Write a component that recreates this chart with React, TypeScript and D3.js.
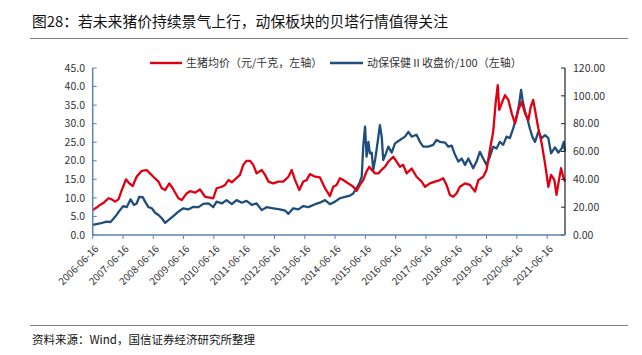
import React from "react";
import * as d3 from "d3";

// ---- data (decimal year, value on left axis) ----
const redYears = [
  2006.46, 2006.59, 2006.70, 2006.81, 2006.98, 2007.09, 2007.20, 2007.31, 2007.42, 2007.56, 2007.67, 2007.78, 2007.91,
  2008.08, 2008.24, 2008.35, 2008.46, 2008.63, 2008.74, 2008.85, 2008.99, 2009.10, 2009.29, 2009.40, 2009.56, 2009.67,
  2009.84, 2010.00, 2010.17, 2010.33, 2010.44, 2010.55, 2010.72, 2010.83, 2010.94, 2011.05, 2011.16, 2011.32, 2011.43,
  2011.54, 2011.65, 2011.76, 2011.87, 2012.04, 2012.15, 2012.26, 2012.42, 2012.59, 2012.75, 2012.92, 2013.03, 2013.14,
  2013.28, 2013.41, 2013.52, 2013.63, 2013.80, 2013.96, 2014.13, 2014.29, 2014.40, 2014.51, 2014.62, 2014.73, 2014.90,
  2015.06, 2015.17, 2015.28, 2015.39, 2015.50, 2015.59, 2015.67, 2015.78, 2015.89, 2015.99, 2016.11, 2016.22, 2016.38,
  2016.49, 2016.60, 2016.71, 2016.82, 2016.99, 2017.15, 2017.32, 2017.43, 2017.59, 2017.76, 2017.92, 2018.03, 2018.14,
  2018.25, 2018.36, 2018.47, 2018.58, 2018.75, 2018.91, 2019.08, 2019.19, 2019.35, 2019.46, 2019.57, 2019.68, 2019.76,
  2019.83, 2019.88, 2019.96, 2020.07, 2020.18, 2020.29, 2020.40, 2020.51, 2020.62, 2020.73, 2020.84, 2020.92, 2021.00,
  2021.08, 2021.17, 2021.28, 2021.39, 2021.50, 2021.59, 2021.70, 2021.77, 2021.85, 2021.92, 2021.99, 2022.05,
];
const redValues = [
  6.7, 7.4, 8.1, 8.6, 9.9, 9.6, 9.0, 9.6, 12.1, 15.0, 13.9, 13.2, 15.7,
  17.3, 17.5, 16.6, 15.7, 14.4, 12.6, 12.1, 13.9, 12.6, 9.9, 9.4, 11.2, 11.8,
  11.4, 12.3, 10.3, 10.1, 9.9, 12.6, 13.0, 13.5, 14.8, 14.2, 15.0, 16.2, 18.9,
  20.0, 20.0, 18.9, 16.6, 17.5, 16.2, 14.4, 13.9, 14.4, 14.4, 15.7, 17.5, 14.8,
  12.1, 14.4, 14.8, 16.4, 15.7, 15.5, 12.6, 10.5, 13.0, 13.5, 15.3, 14.8, 13.9,
  13.0, 11.9, 13.5, 14.8, 17.1, 18.4, 17.5, 16.6, 16.6, 17.5, 18.4, 19.8, 21.1,
  19.8, 18.4, 18.9, 16.6, 17.9, 15.7, 14.4, 13.0, 13.9, 14.4, 14.8, 15.3, 13.5,
  10.8, 10.3, 11.2, 13.0, 13.9, 13.5, 11.7, 14.8, 15.7, 17.5, 22.9, 27.8, 35.5,
  40.4, 33.7, 35.5, 37.7, 36.4, 32.8, 30.1, 33.7, 35.9, 32.8, 31.0, 34.6, 36.4,
  32.8, 28.7, 24.7, 19.3, 13.0, 16.2, 14.8, 10.8, 14.8, 18.0, 15.7, 14.4,
];

const blueYears = [
  2006.46, 2006.70, 2006.92, 2007.05, 2007.20, 2007.36, 2007.47, 2007.58, 2007.71, 2007.82, 2007.91, 2008.00, 2008.11,
  2008.19, 2008.30, 2008.41, 2008.52, 2008.63, 2008.74, 2008.85, 2008.96, 2009.12, 2009.29, 2009.45, 2009.62, 2009.78,
  2009.95, 2010.11, 2010.28, 2010.44, 2010.55, 2010.72, 2010.88, 2011.05, 2011.21, 2011.38, 2011.54, 2011.71, 2011.87,
  2012.04, 2012.20, 2012.42, 2012.64, 2012.81, 2012.92, 2013.08, 2013.25, 2013.41, 2013.58, 2013.80, 2013.96, 2014.13,
  2014.29, 2014.46, 2014.62, 2014.79, 2014.95, 2015.06, 2015.17, 2015.26, 2015.34, 2015.39, 2015.45, 2015.50, 2015.56,
  2015.61, 2015.67, 2015.72, 2015.78, 2015.83, 2015.89, 2015.94, 2016.00, 2016.05, 2016.14, 2016.22, 2016.33, 2016.44,
  2016.60, 2016.77, 2016.88, 2016.99, 2017.15, 2017.26, 2017.37, 2017.54, 2017.70, 2017.81, 2017.92, 2018.09, 2018.20,
  2018.31, 2018.42, 2018.53, 2018.64, 2018.75, 2018.86, 2019.02, 2019.13, 2019.24, 2019.35, 2019.46, 2019.57, 2019.68,
  2019.79, 2019.90, 2020.01, 2020.12, 2020.23, 2020.34, 2020.45, 2020.53, 2020.60, 2020.65, 2020.73, 2020.82, 2020.89,
  2020.97, 2021.06, 2021.17, 2021.28, 2021.39, 2021.50, 2021.59, 2021.72, 2021.83, 2021.94, 2022.01, 2022.05,
];
const blueValues = [
  2.7, 3.1, 3.6, 3.5, 4.9, 6.7, 7.8, 7.5, 9.6, 8.1, 8.5, 10.3, 10.2,
  9.0, 7.5, 7.2, 6.0, 5.4, 4.5, 3.3, 4.0, 5.1, 6.3, 7.2, 6.9, 7.6,
  7.5, 8.4, 8.5, 7.5, 9.0, 8.5, 9.4, 8.3, 9.4, 8.7, 9.2, 8.1, 8.5,
  6.7, 7.5, 7.2, 6.9, 6.6, 5.7, 7.2, 6.9, 7.8, 7.5, 8.3, 8.7, 9.4,
  8.3, 9.0, 9.9, 10.3, 10.6, 11.2, 12.6, 13.9, 15.7, 23.8, 29.2, 21.1, 25.1,
  22.0, 22.2, 17.5, 20.2, 22.9, 26.5, 29.6, 26.5, 20.2, 22.0, 23.8, 22.2, 24.7,
  25.6, 26.5, 27.8, 26.5, 27.0, 25.1, 23.8, 23.8, 24.3, 25.6, 25.1, 24.9, 23.8,
  24.1, 21.6, 19.8, 20.6, 18.9, 20.6, 18.0, 19.8, 22.4, 20.6, 18.9, 21.1, 23.8,
  23.3, 25.1, 24.3, 26.5, 26.1, 28.7, 31.9, 35.0, 39.1, 36.4, 33.2, 31.0, 28.7,
  26.5, 25.1, 27.8, 26.1, 26.9, 26.1, 22.0, 23.6, 22.2, 23.3, 25.1, 22.5,
];

const xTickLabels = [
  "2006-06-16", "2007-06-16", "2008-06-16", "2009-06-16", "2010-06-16", "2011-06-16", "2012-06-16", "2013-06-16",
  "2014-06-16", "2015-06-16", "2016-06-16", "2017-06-16", "2018-06-16", "2019-06-16", "2020-06-16", "2021-06-16",
];
const leftTicks = [0, 5, 10, 15, 20, 25, 30, 35, 40, 45];
const rightTicks = [0, 20, 40, 60, 80, 100, 120];

const title = "图28：若未来猪价持续景气上行，动保板块的贝塔行情值得关注";
const legendRed = "生猪均价（元/千克，左轴）";
const legendBlue = "动保保健Ⅱ收盘价/100（左轴）";
const source = "资料来源：Wind，国信证券经济研究所整理";

const W = 642;
const H = 355;
const L = 92.7;
const R = 565;
const T = 68;
const B = 235;

const FONT = "'Noto Sans CJK SC', 'Noto Sans', sans-serif";
const RED = "#e00012";
const BLUE = "#1f4e7c";
const AXIS_BLUE = "#5b82b3";

export default function App() {
  const x = d3.scaleLinear().domain([2006.46, 2022.05]).range([L, R]);
  const yL = d3.scaleLinear().domain([0, 45]).range([B, T]);
  const yR = d3.scaleLinear().domain([0, 120]).range([B, T]);

  const redData = redYears.map((t, i) => [t, redValues[i]] as [number, number]);
  const blueData = blueYears.map((t, i) => [t, blueValues[i]] as [number, number]);
  const line = d3
    .line<[number, number]>()
    .x((d) => x(d[0]))
    .y((d) => yL(d[1]));

  const tickYears = xTickLabels.map((_, i) => 2006.46 + i);

  return (
    <svg
      width={W}
      height={H}
      style={{ position: "absolute", left: 0, top: 0, background: "#fff" }}
      fontFamily={FONT}
    >
      <rect x={0} y={0} width={W} height={H} fill="#fff" />
      {/* title */}
      <text x={32} y={27} fontSize={14.8} fill="#111">
        {title}
      </text>
      <line x1={30} x2={628} y1={38.5} y2={38.5} stroke="#7f7f7f" strokeWidth={1} />

      {/* legend */}
      <line x1={150} x2={182} y1={63} y2={63} stroke={RED} strokeWidth={2.4} />
      <text x={186} y={67} fontSize={11} fill="#333">
        {legendRed}
      </text>
      <line x1={330} x2={363} y1={63} y2={63} stroke={BLUE} strokeWidth={2.4} />
      <text x={367} y={67} fontSize={11} fill="#333">
        {legendBlue}
      </text>

      {/* lines */}
      <path d={line(blueData) || ""} fill="none" stroke={BLUE} strokeWidth={2.3} strokeLinejoin="round" />
      <path d={line(redData) || ""} fill="none" stroke={RED} strokeWidth={2.3} strokeLinejoin="round" />

      {/* left axis */}
      <line x1={L} x2={L} y1={T} y2={B} stroke={AXIS_BLUE} strokeWidth={1.5} />
      {leftTicks.map((v) => (
        <g key={"l" + v}>
          <line x1={L} x2={L + 4} y1={yL(v)} y2={yL(v)} stroke={AXIS_BLUE} strokeWidth={1} />
          <text x={85} y={yL(v)} dy="0.35em" textAnchor="end" fontSize={10.5} fill="#333">
            {v.toFixed(1)}
          </text>
        </g>
      ))}

      {/* right axis */}
      <line x1={R} x2={R} y1={T} y2={B} stroke="#222" strokeWidth={1.2} />
      {rightTicks.map((v) => (
        <g key={"r" + v}>
          <line x1={R - 4} x2={R} y1={yR(v)} y2={yR(v)} stroke="#222" strokeWidth={1} />
          <text x={573} y={yR(v)} dy="0.35em" textAnchor="start" fontSize={10.5} fill="#333">
            {v.toFixed(2)}
          </text>
        </g>
      ))}

      {/* bottom axis */}
      <line x1={L} x2={R} y1={B} y2={B} stroke={AXIS_BLUE} strokeWidth={1.5} />
      {tickYears.map((t, i) => (
        <g key={"x" + i}>
          <line x1={x(t)} x2={x(t)} y1={B} y2={B + 4} stroke={AXIS_BLUE} strokeWidth={1} />
          <text
            transform={`translate(${x(t) + 4},${B + 12}) rotate(-45)`}
            textAnchor="end"
            dy="0.35em"
            fontSize={10}
            fill="#333"
          >
            {xTickLabels[i]}
          </text>
        </g>
      ))}

      {/* footer */}
      <line x1={30} x2={628} y1={325.5} y2={325.5} stroke="#7f7f7f" strokeWidth={1} />
      <text x={32} y={344} fontSize={11.5} fill="#111">
        {source}
      </text>
    </svg>
  );
}
